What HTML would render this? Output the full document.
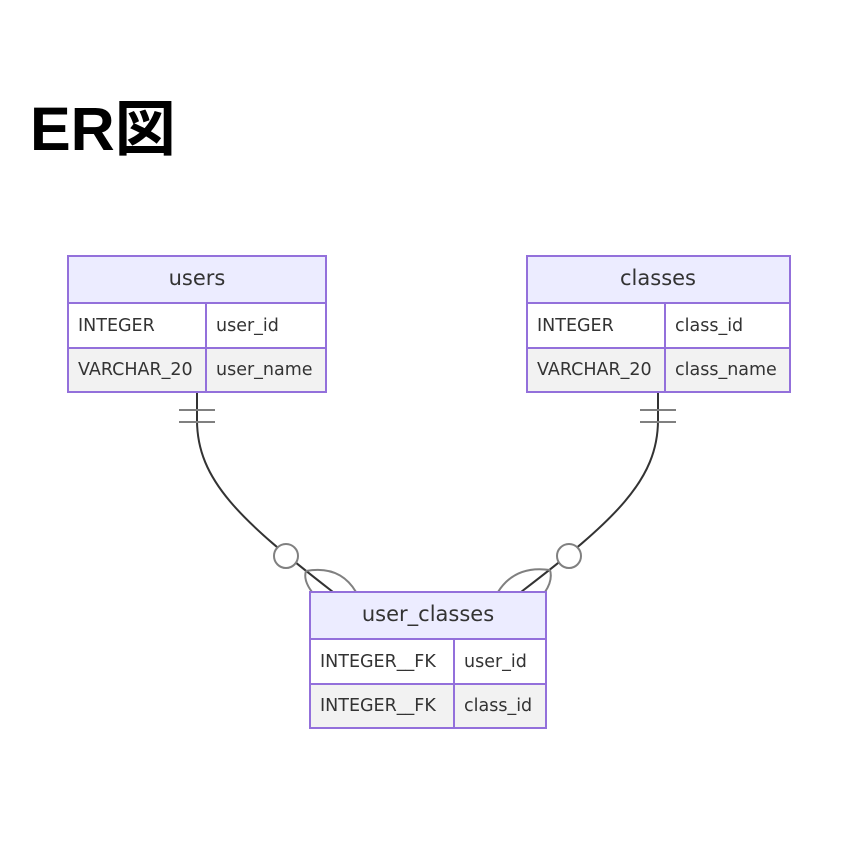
<!DOCTYPE html>
<html><head><meta charset="utf-8"><style>
body{margin:0;background:#fff;}
svg{display:block}
.t{font-family:"DejaVu Sans","Liberation Sans",sans-serif;fill:#333;}
</style></head><body>
<svg width="864" height="854" xmlns="http://www.w3.org/2000/svg">
<text x="30" y="150" style="font-family:'Liberation Sans','Noto Sans CJK JP',sans-serif;font-weight:bold;font-size:61px;fill:#000">ER図</text>
<g fill="none">
<path d="M197 392 L197 420 C197 480 240 520 333 592" stroke="#333" stroke-width="2"/>
<path d="M658 392 L658 420 C658 480 615 520 521 592" stroke="#333" stroke-width="2"/>
<g stroke="#808080" stroke-width="2">
<line x1="179" y1="410" x2="215" y2="410"/><line x1="179" y1="422" x2="215" y2="422"/>
<line x1="640" y1="410" x2="676" y2="410"/><line x1="640" y1="422" x2="676" y2="422"/>
<circle cx="286" cy="556" r="12" fill="#fff"/>
<circle cx="569" cy="556" r="12" fill="#fff"/>
<path d="M356 592 Q340 565 306 571 M312 592 Q303 580 306 571"/>
<path d="M498 592 Q515 565 550 570 M545 592 Q553 580 550 570"/>
</g>
</g>
<g stroke="#9370DB" stroke-width="2">
<rect x="68" y="256" width="258" height="47" fill="#ECECFF"/>
<rect x="68" y="303" width="258" height="45" fill="#fff"/>
<rect x="68" y="348" width="258" height="44" fill="#F2F2F2"/>
<line x1="206" y1="303" x2="206" y2="392"/>
<rect x="527" y="256" width="263" height="47" fill="#ECECFF"/>
<rect x="527" y="303" width="263" height="45" fill="#fff"/>
<rect x="527" y="348" width="263" height="44" fill="#F2F2F2"/>
<line x1="665" y1="303" x2="665" y2="392"/>
<rect x="310" y="592" width="236" height="47" fill="#ECECFF"/>
<rect x="310" y="639" width="236" height="45" fill="#fff"/>
<rect x="310" y="684" width="236" height="44" fill="#F2F2F2"/>
<line x1="454" y1="639" x2="454" y2="728"/>
</g>
<g class="t" font-size="17.5">
<text x="197" y="285" text-anchor="middle" font-size="21">users</text>
<text x="78" y="331">INTEGER</text><text x="216" y="331">user_id</text>
<text x="78" y="375">VARCHAR_20</text><text x="216" y="375">user_name</text>
<text x="658" y="285" text-anchor="middle" font-size="21">classes</text>
<text x="537" y="331">INTEGER</text><text x="675" y="331">class_id</text>
<text x="537" y="375">VARCHAR_20</text><text x="675" y="375">class_name</text>
<text x="428" y="621" text-anchor="middle" font-size="21">user_classes</text>
<text x="320" y="667">INTEGER__FK</text><text x="464" y="667">user_id</text>
<text x="320" y="711">INTEGER__FK</text><text x="464" y="711">class_id</text>
</g>
</svg>
</body></html>
